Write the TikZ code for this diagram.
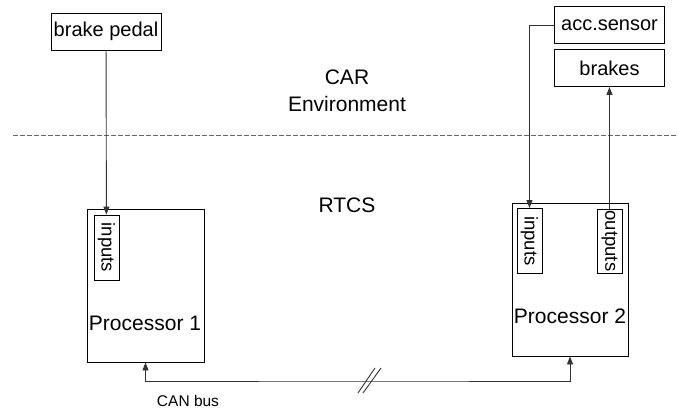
\documentclass[tikz,border=0pt]{standalone}
\usepackage{fontspec}
\setmainfont{Liberation Sans}
\usetikzlibrary{positioning, arrows.meta, calc}

\begin{document}
\begin{tikzpicture}[
  x=1pt, y=-1pt,
  dev/.style={draw, line width=0.9pt, minimum width=110pt, minimum height=37pt,
              inner sep=0pt, font=\fontsize{20}{24}\selectfont},
  proc/.style={draw, line width=0.9pt, minimum width=117pt, minimum height=153pt,
               inner sep=0pt},
  port/.style={draw, line width=0.9pt, minimum width=65pt, minimum height=25pt,
               inner sep=0pt, rotate=-90, font=\fontsize{18.5}{22}\selectfont},
  ttl/.style={font=\fontsize{21}{25}\selectfont, inner sep=0pt},
  arr/.style={-{Triangle[length=8pt, width=6pt]}, line width=0.9pt, color=black!80},
  busarr/.style={{Triangle[length=8pt, width=6pt]}-{Triangle[length=8pt, width=6pt]},
                 line width=0.9pt, color=black!80},
  sep/.style={dashed, dash pattern=on 5pt off 2pt, line width=0.8pt, color=black!60},
]
\useasboundingbox (0,0) rectangle (678,412);

% --- Environment side ---
\node[dev] (pedal) at (106,31.5) {brake pedal};
\node[dev] (acc) at (609.5,25) {acc.sensor};
\node[dev] (brakes) at (609.5,68) {brakes};

\node[ttl] (car) at (347,77) {CAR};
\node[ttl] (env) at (347,104) {Environment};

% --- Separator ---
\coordinate (sepL) at (13,135);
\coordinate (sepR) at (678,135);
\draw[sep] (sepL) -- (sepR);

\node[ttl] (rtcs) at (347,205) {RTCS};

% --- Processors ---
\node[proc] (p1) at (145.5,285.5) {};
\node[proc, minimum width=116pt] (p2) at (570,279.5) {};
\node[ttl] (p1lbl) at (145,323) {Processor 1};
\node[ttl] (p2lbl) at (570,316) {Processor 2};

\node[port] (in1) at (106.5,247.5) {inputs};
\node[port] (in2) at (529.5,241) {inputs};
\node[port, minimum width=64pt] (out2) at (609.5,241) {outputs};

% --- Signals ---
\draw[arr] (pedal) -- (in1);
\draw[arr] (acc.west) -| (in2.west);
\draw[arr] (out2.west) -- (brakes);

% --- CAN bus ---
\coordinate (bus) at (370,381);
\draw[busarr] (p1.south) |- (bus) -| (p2.south);
\draw[line width=0.9pt, color=black!80] ($(bus)+(-12,12)$) -- ($(bus)+(5,-13)$);
\draw[line width=0.9pt, color=black!80] ($(bus)+(-7,12)$) -- ($(bus)+(11,-13)$);
\node[font=\fontsize{15.5}{18}\selectfont, inner sep=0pt] (canlbl) at (188,401) {CAN bus};

\end{tikzpicture}
\end{document}
